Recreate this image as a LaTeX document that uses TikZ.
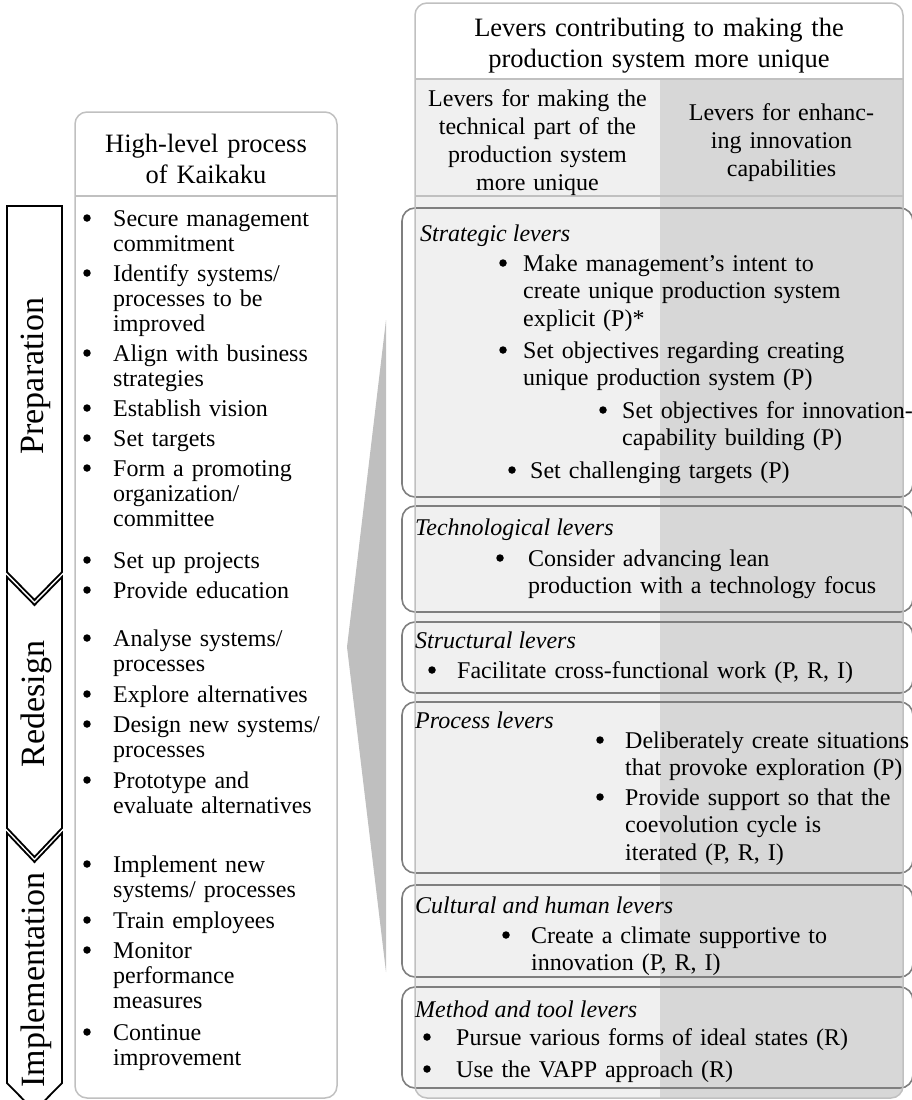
\documentclass[tikz,border=0pt]{standalone}
\usepackage{fontspec}
\setmainfont{Liberation Serif}
\definecolor{panelline}{HTML}{C0C0C0}
\definecolor{colA}{HTML}{F0F0F0}
\definecolor{colB}{HTML}{D7D7D7}
\definecolor{leverline}{HTML}{7F7F7F}
\definecolor{wedgegray}{HTML}{BFBFBF}
\tikzset{
  txtL/.style={anchor=base west, inner sep=0, text width=260bp, align=left,
    font=\fontsize{24bp}{25bp}\selectfont},
  txtR/.style={anchor=base west, inner sep=0, text width=400bp, align=left,
    font=\fontsize{24bp}{27.5bp}\selectfont},
  head/.style={anchor=base, inner sep=0, align=center,
    font=\fontsize{26.5bp}{31bp}\selectfont},
  colhead/.style={anchor=base, inner sep=0, align=center, text width=240bp,
    font=\fontsize{24bp}{28bp}\selectfont},
  cat/.style={anchor=base west, inner sep=0, font=\fontsize{24bp}{27bp}\selectfont\itshape},
  bul/.style={circle, fill=black, inner sep=0, minimum size=7.5bp},
  phase/.style={draw=black, line width=1.8bp, fill=white, line join=miter},
  phaselabel/.style={rotate=90, inner sep=0, font=\fontsize{34bp}{36bp}\selectfont},
  leverbox/.style={draw=leverline, line width=1.6bp, rounded corners=13bp},
}
% bullet item in the left list: name, bullet x, text x, baseline y, text
\newcommand\leftitem[5]{%
  \node[bul] (#1b) at (#2,#4-8) {};
  \node[txtL] (#1) at (#3,#4) {#5};}
% bullet item in the lever boxes
\newcommand\leveritem[5]{%
  \node[bul] (#1b) at (#2,#4-8) {};
  \node[txtR] (#1) at (#3,#4) {#5};}
\begin{document}
\begin{tikzpicture}[x=1bp,y=-1bp]
\useasboundingbox (0,0) rectangle (912,1100);
\begin{scope}
\clip (0,0) rectangle (912,1100);

% ---------- phase chevrons ----------
\draw[phase] (7,206) -- (62,206) -- (62,572) -- (34.5,600) -- (7,572) -- cycle;
\draw[phase] (7,577) -- (34.5,605) -- (62,577) -- (62,828) -- (34.5,857) -- (7,828) -- cycle;
\draw[phase] (7,833) -- (34.5,862) -- (62,833) -- (62,1083) -- (34.5,1111) -- (7,1083) -- cycle;
\node[phaselabel] (prep) at (36,376) {Preparation};
\node[phaselabel] (redes) at (36,704) {Redesign};
\node[phaselabel] (impl) at (36,980) {Implementation};

% ---------- Kaikaku process panel ----------
\draw[panelline, line width=1.5bp, rounded corners=12bp, fill=white] (75,112) rectangle (337,1098);
\draw[panelline, line width=1.5bp] (75,196) -- (337,196);
\node[head, text width=250bp] (kaihead) at (206,152) {High-level process\\of Kaikaku};

\leftitem{l1}{87}{113}{226}{Secure management\\commitment}
\leftitem{l2}{87}{113}{281}{Identify systems/\\processes to be\\improved}
\leftitem{l3}{87}{113}{361}{Align with business\\strategies}
\leftitem{l4}{87}{113}{416}{Establish vision}
\leftitem{l5}{87}{113}{446}{Set targets}
\leftitem{l6}{87}{113}{476}{Form a promoting\\organization/\\committee}
\leftitem{l7}{87}{113}{568}{Set up projects}
\leftitem{l8}{87}{113}{598}{Provide education}
\leftitem{l9}{87}{113}{646}{Analyse systems/\\processes}
\leftitem{l10}{87}{113}{702}{Explore alternatives}
\leftitem{l11}{87}{113}{732}{Design new systems/\\processes}
\leftitem{l12}{87}{113}{788}{Prototype and\\evaluate alternatives}
\leftitem{l13}{87}{113}{872}{Implement new\\systems/ processes}
\leftitem{l14}{87}{113}{928}{Train employees}
\leftitem{l15}{87}{113}{958}{Monitor\\performance\\measures}
\leftitem{l16}{87}{113}{1040}{Continue\\improvement}

% ---------- link wedge ----------
\fill[wedgegray] (386,320) -- (347,647) -- (386,972) -- cycle;

% ---------- levers panel: backgrounds ----------
\begin{scope}
\clip[rounded corners=12bp] (415,3) rectangle (903,1098);
\fill[white] (415,3) rectangle (903,79);
\fill[colA] (415,79) rectangle (660,1098);
\fill[colB] (660,79) rectangle (903,1098);
\end{scope}
\draw[panelline, line width=1.2bp] (415,79) -- (903,79);
\draw[panelline, line width=1.5bp] (415,196) -- (903,196);

\node[head, text width=480bp] (levhead) at (659,36) {Levers contributing to making the\\production system more unique};
\node[colhead] (techhead) at (537.5,106)
  {Levers for making the\\technical part of the\\production system\\more unique};
\node[colhead] (innohead) at (781.5,120)
  {Levers for enhanc-\\ing innovation\\capabilities};

% ---------- lever category boxes ----------
\node[leverbox, minimum width=511bp, minimum height=289bp] (strat) at (657.5,352.5) {};
\node[leverbox, minimum width=511bp, minimum height=106bp] (techn) at (657.5,559) {};
\node[leverbox, minimum width=511bp, minimum height=71bp] (struc) at (657.5,657.5) {};
\node[leverbox, minimum width=511bp, minimum height=171bp] (proc) at (657.5,787.5) {};
\node[leverbox, minimum width=511bp, minimum height=92bp] (cult) at (657.5,931) {};
\node[leverbox, minimum width=511bp, minimum height=101bp] (meth) at (657.5,1037.5) {};

% panel outline over the boxes
\draw[panelline, line width=1.5bp, rounded corners=12bp] (415,3) rectangle (903,1098);

% ---------- lever texts ----------
\node[cat] (stratT) at (420,241) {Strategic levers};
\leveritem{s1}{503}{523}{271}{Make management’s intent to\\create unique production system\\explicit (P)*}
\leveritem{s2}{503}{523}{358}{Set objectives regarding creating\\unique production system (P)}
\leveritem{s3}{603}{622}{418}{Set objectives for innovation-\\capability building (P)}
\leveritem{s4}{512}{530}{478}{Set challenging targets (P)}

\node[cat] (technT) at (415,535) {Technological levers};
\leveritem{t1}{500}{528}{566}{Consider advancing lean\\production with a technology focus}

\node[cat] (strucT) at (415,648) {Structural levers};
\leveritem{u1}{432}{457}{678}{Facilitate cross-functional work (P, R, I)}

\node[cat] (procT) at (415,728) {Process levers};
\leveritem{p1}{600}{625}{748}{Deliberately create situations\\that provoke exploration (P)}
\leveritem{p2}{600}{625}{805}{Provide support so that the\\coevolution cycle is\\iterated (P, R, I)}

\node[cat] (cultT) at (415,913) {Cultural and human levers};
\leveritem{c1}{506}{531}{943}{Create a climate supportive to\\innovation (P, R, I)}

\node[cat] (methT) at (415,1017) {Method and tool levers};
\leveritem{m1}{427}{456}{1045}{Pursue various forms of ideal states (R)}
\leveritem{m2}{427}{456}{1077}{Use the VAPP approach (R)}
\end{scope}
\end{tikzpicture}
\end{document}
